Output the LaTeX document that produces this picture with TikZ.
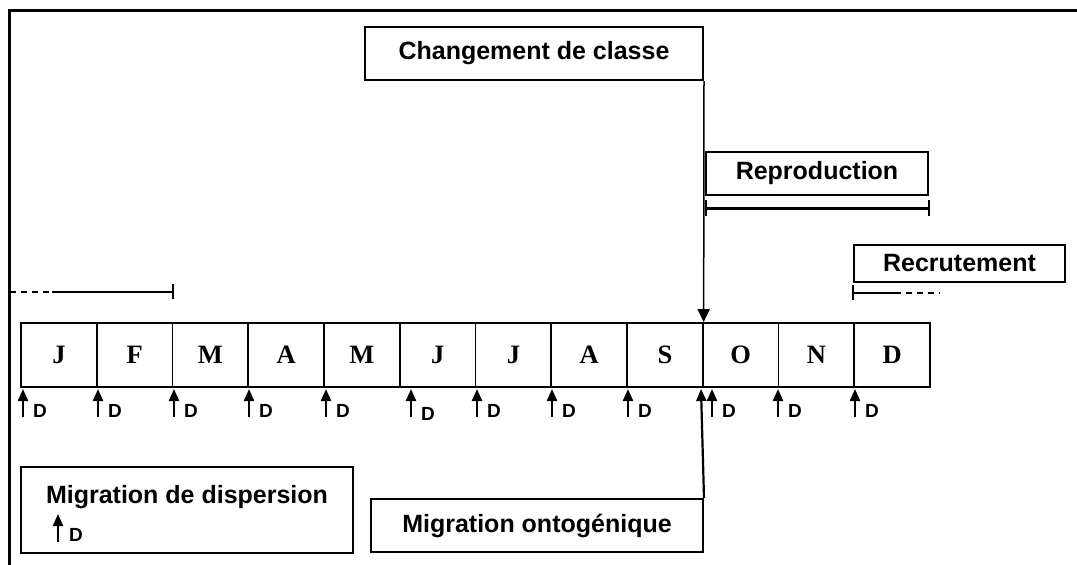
\documentclass[tikz,border=0pt]{standalone}
\usepackage{fontspec}
\setmainfont{Liberation Sans}
\newfontfamily\serifb{Liberation Serif}
\usetikzlibrary{arrows.meta}
\begin{document}
\begin{tikzpicture}[x=1pt,y=-1pt,
  lbl/.style={draw,line width=2pt,inner sep=0pt,font=\fontsize{25}{30}\selectfont\bfseries},
  month/.style={draw,line width=1.8pt,minimum width=75.75pt,minimum height=64pt,inner sep=0pt,font=\serifb\fontsize{26.5}{30}\selectfont\bfseries},
  darr/.style={line width=2.2pt,-{Triangle[width=10pt,length=12pt]}},
  dlab/.style={font=\fontsize{19}{22}\selectfont\bfseries,inner sep=0pt,anchor=west},
  frame/.style={line width=3pt},
  thinbr/.style={line width=1.5pt},
  thickbr/.style={line width=3pt},
  tick/.style={line width=1.8pt}
]
\useasboundingbox (0,0) rectangle (1077,565);
% frame
\coordinate (f0) at (9.5,565);
\coordinate (f1) at (9.5,10.5);
\coordinate (f2) at (1077,10.5);
\draw[frame] (f0) -- (f1) -- (f2);

% months
\foreach \l [count=\i] in {J,F,M,A,M,J,J,A,S,O,N,D}
  \node[month] (m\i) at ({21+75.75*(\i-0.5)},355) {\l};

% label boxes
\node[lbl,minimum width=338pt,minimum height=53pt] (chg) at (534,53.5) {Changement de classe};
\node[lbl,minimum width=222pt,minimum height=43pt] (rep) at (817,173.5) {Reproduction};
\node[lbl,minimum width=211pt,minimum height=37pt] (rec) at (959.5,263.5) {Recrutement};
\node[lbl,minimum width=332pt,minimum height=86pt] (disp) at (187,510) {};
\node[font=\fontsize{25}{30}\selectfont\bfseries,inner sep=0pt] (dispt) at (187,497) {Migration de dispersion};
\node[lbl,minimum width=332pt,minimum height=53pt] (onto) at (537,525.5) {Migration ontogénique};

% changement arrow
\draw[line width=1.5pt,-{Triangle[width=12pt,length=13pt]}] (chg.south east) -- (m9.north east);

% reproduction bracket
\coordinate (rp0) at (706,208);
\coordinate (rp1) at (929,208);
\draw[thickbr] (rp0) -- (rp1);
\draw[tick] ([yshift=-8pt]rp0) -- ([yshift=8pt]rp0);
\draw[tick] ([yshift=-8pt]rp1) -- ([yshift=8pt]rp1);

% recrutement bracket
\coordinate (rc0) at (853,293);
\coordinate (rc1) at (895,293);
\coordinate (rc2) at (940,293);
\draw[thinbr] (rc0) -- (rc1);
\draw[thinbr,dash pattern=on 6pt off 5pt] (rc1) -- (rc2);
\draw[tick] ([yshift=-7pt]rc0) -- ([yshift=8pt]rc0);

% left bracket (continued from previous year)
\coordinate (lb0) at (10,292);
\coordinate (lb1) at (52,292);
\coordinate (lb2) at (173,292);
\draw[thinbr,dash pattern=on 6pt off 5pt] (lb0) -- (lb1);
\draw[thinbr] (lb1) -- (lb2);
\draw[tick] ([yshift=-7pt]lb2) -- ([yshift=8pt]lb2);

% dispersion arrows
\foreach \x/\dy [count=\i] in {23/0,98/0,174/0,249/0,326/0,411/3,477/0,552/0,628/0,712/0,778/0,855/0}{
  \coordinate (a\i) at (\x,417);
  \coordinate (t\i) at (\x,389);
  \draw[darr] (a\i) -- (t\i);
  \node[dlab] (d\i) at (\x+10,410.5+\dy) {D};
}

% ontogenic migration arrow
\coordinate (ot) at (701,389);
\draw[darr] (onto.north east) -- (ot);

% legend arrow
\coordinate (la0) at (58,542);
\coordinate (la1) at (58,514);
\draw[darr] (la0) -- (la1);
\node[dlab] (ld) at (69,535) {D};
\end{tikzpicture}
\end{document}
